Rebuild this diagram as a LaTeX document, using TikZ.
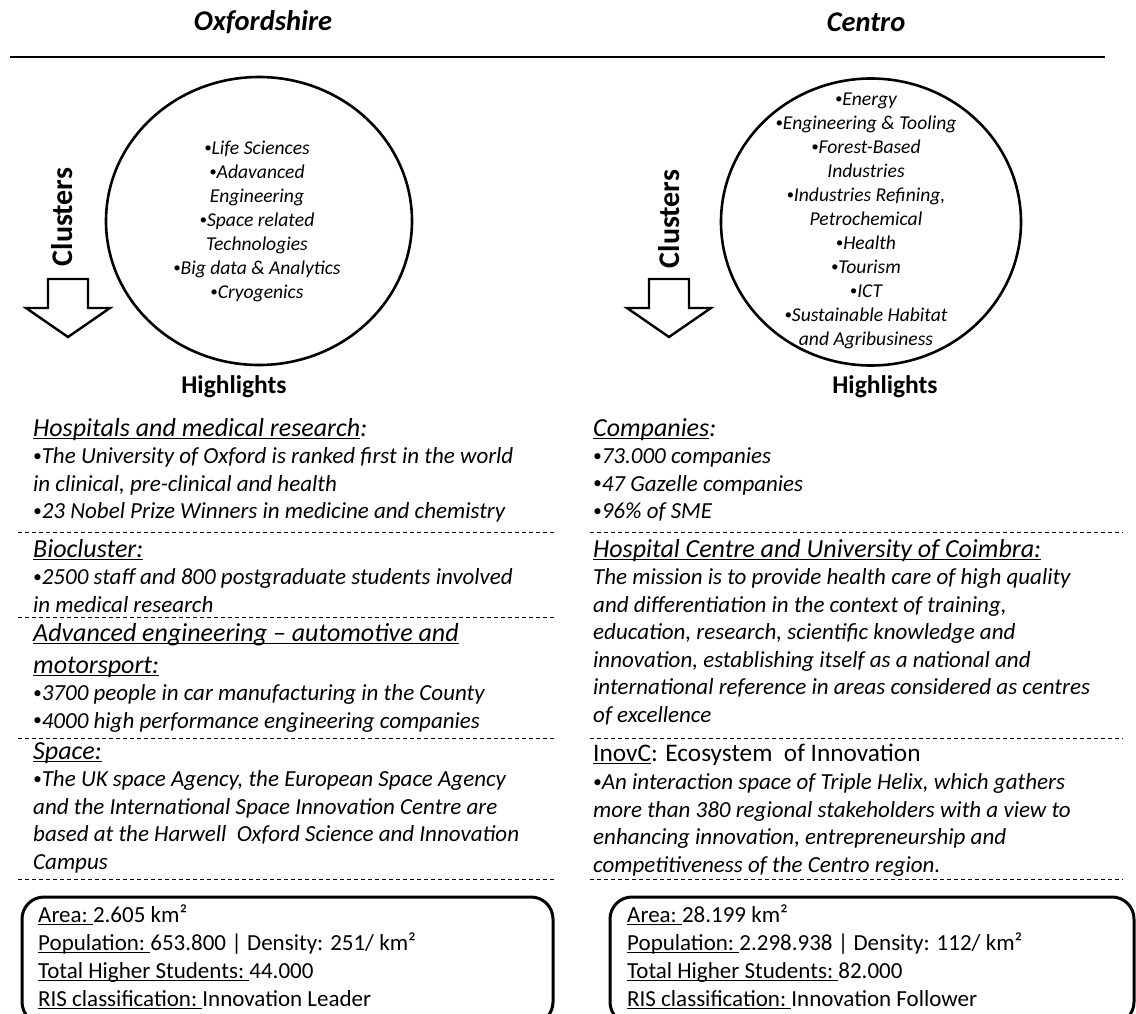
\documentclass[tikz,border=0pt]{standalone}
\usepackage{fontspec}
\setmainfont{Carlito}
\newsavebox{\undlbox}
\newcommand{\undl}[1]{\sbox{\undlbox}{#1}\rlap{\rule[-3.2pt]{\wd\undlbox}{1.3pt}}\usebox{\undlbox}}
\newcommand{\bul}{\raisebox{.1em}{\scalebox{.75}{•}}}
\usetikzlibrary{calc, positioning, shapes.geometric}

\begin{document}
\begin{tikzpicture}
  [x=1pt, y=-1pt,
   region/.style={font=\fontsize{28.5}{32}\selectfont\bfseries\itshape},
   ring/.style={draw, ellipse, line width=2.6pt, inner sep=0pt},
   clusterlist/.style={align=center, inner sep=0pt, font=\fontsize{19.6}{24}\selectfont\itshape},
   sidelabel/.style={rotate=90, font=\fontsize{30}{34}\selectfont\bfseries},
   highlight/.style={font=\fontsize{25.5}{30}\selectfont\bfseries},
   head/.style={anchor=base west, inner sep=0pt, font=\fontsize{26}{30}\selectfont\itshape},
   body/.style={anchor=base west, inner sep=0pt, font=\fontsize{23}{27}\selectfont\itshape},
   fact/.style={anchor=base west, inner sep=0pt, font=\fontsize{23}{27}\selectfont},
   sep/.style={dash pattern=on 4pt off 3pt, line width=0.9pt},
   infobox/.style={line width=3pt, rounded corners=22pt},
   blockarrow/.style={line width=2.4pt, line join=miter}]
  \useasboundingbox (0,0) rectangle (1136,1014);
  \clip (0,0) rectangle (1136,1014);

  \node[region] (oxname) at (263,22) {Oxfordshire};
  \node[region] (cename) at (866,22) {Centro};
  \draw[line width=1.8pt] (10,57) -- (1105,57);

  \node[ring, minimum width=306pt, minimum height=288pt] (oxring) at (259,221) {};
  \node[ring, minimum width=300pt, minimum height=287pt] (ce ring) at (871,222) {};
  \node[clusterlist] (oxlist) at ($(oxring.center)+(-2,0)$)
    {\bul Life Sciences\\\bul Adavanced\\Engineering\\\bul Space related\\Technologies\\\bul Big data \& Analytics\\\bul Cryogenics};
  \node[clusterlist] (celist) at ($(ce ring.center)+(-5,-1)$)
    {\bul Energy\\\bul Engineering \& Tooling\\\bul Forest-Based\\Industries\\\bul Industries Refining,\\Petrochemical\\\bul Health\\\bul Tourism\\\bul ICT\\\bul Sustainable Habitat\\and Agribusiness};

  \node[sidelabel] (oxclusters) at (62,217) {Clusters};
  \node[sidelabel] (ceclusters) at (669,219) {Clusters};
  \foreach \ax in {68,669}
    \draw[blockarrow] ({\ax-20},279) -- ({\ax+20},279) -- ({\ax+20},308) -- ({\ax+42},308)
      -- (\ax,337) -- ({\ax-42},308) -- ({\ax-20},308) -- cycle;
  \node[highlight] (oxhigh) at (234,387) {Highlights};
  \node[highlight] (cehigh) at (885,387) {Highlights};

  % Oxfordshire highlights
  \node[head] (hosp) at (33,436) {\undl{Hospitals and medical research}:};
  \foreach \txt [count=\i] in {{\bul The University of Oxford is ranked first in the world},
      {in clinical, pre-clinical and health}, {\bul 23 Nobel Prize Winners in medicine and chemistry}}
    \node[body] (hosp-\i) at (33,{436+27.5*\i}) {\txt};
  \node[head] (bio) at (33,557) {\undl{Biocluster:}};
  \foreach \txt [count=\i] in {{\bul 2500 staff and 800 postgraduate students involved}, {in medical research}}
    \node[body] (bio-\i) at (33,{557+27.5*\i}) {\txt};
  \node[head] (auto) at (33,641) {\undl{Advanced engineering – automotive and}};
  \node[head] (auto-b) at (33,673) {\undl{motorsport:}};
  \foreach \txt [count=\i] in {{\bul 3700 people in car manufacturing in the County},
      {\bul 4000 high performance engineering companies}}
    \node[body] (auto-\i) at (33,{673+27.5*\i}) {\txt};
  \node[head] (space) at (33,759) {\undl{Space:}};
  \foreach \txt [count=\i] in {{\bul The UK space Agency, the European Space Agency},
      {and the International Space Innovation Centre are},
      {based at the Harwell\ \ Oxford Science and Innovation}, {Campus}}
    \node[body] (space-\i) at (33,{759+27.5*\i}) {\txt};
  \foreach \ly in {532,617,738,879}
    \draw[sep] (18,\ly) -- (555,\ly);

  % Centro highlights
  \node[head] (comp) at (593,436) {\undl{Companies}:};
  \foreach \txt [count=\i] in {{\bul 73.000 companies}, {\bul 47 Gazelle companies}, {\bul 96\% of SME}}
    \node[body] (comp-\i) at (593,{436+27.5*\i}) {\txt};
  \node[head] (chuc) at (593,557) {\undl{Hospital Centre\ and University\ of Coimbra:}};
  \foreach \txt [count=\i] in {{The mission is to provide health care of high quality},
      {and differentiation in the context of training,},
      {education, research, scientific knowledge and},
      {innovation, establishing itself as a national and},
      {international reference in areas considered as centres},
      {of excellence}}
    \node[body] (chuc-\i) at (593,{557+27.5*\i}) {\txt};
  \node[head, font=\fontsize{25.3}{30}\selectfont] (inov) at (593,761) {\undl{InovC}: Ecosystem\ \ of Innovation};
  \foreach \txt [count=\i] in {{\bul An interaction space of Triple Helix, which gathers},
      {more than 380 regional stakeholders with a view to},
      {enhancing innovation, entrepreneurship and},
      {competitiveness of the Centro region.}}
    \node[body] (inov-\i) at (593,{762+27.5*\i}) {\txt};
  \foreach \ly in {532,738,879}
    \draw[sep] (590,\ly) -- (1123,\ly);

  % key figures
  \draw[infobox] (22,897) rectangle (553,1024);
  \draw[infobox] (610,897) rectangle (1134,1024);
  \foreach \txt [count=\i] in {{\undl{Area:\ }2.605 km²},
      {\undl{Population:\ }653.800 | Density: 251/ km²},
      {\undl{Total Higher Students:\ }44.000},
      {\undl{RIS classification:\ }Innovation Leader}}
    \node[fact] (oxfact-\i) at (38,{894+28*\i}) {\txt};
  \foreach \txt [count=\i] in {{\undl{Area:\ }28.199 km²},
      {\undl{Population:\ }2.298.938 | Density: 112/ km²},
      {\undl{Total Higher Students:\ }82.000},
      {\undl{RIS classification:\ }Innovation Follower}}
    \node[fact] (cefact-\i) at (627,{894+28*\i}) {\txt};
\end{tikzpicture}
\end{document}
